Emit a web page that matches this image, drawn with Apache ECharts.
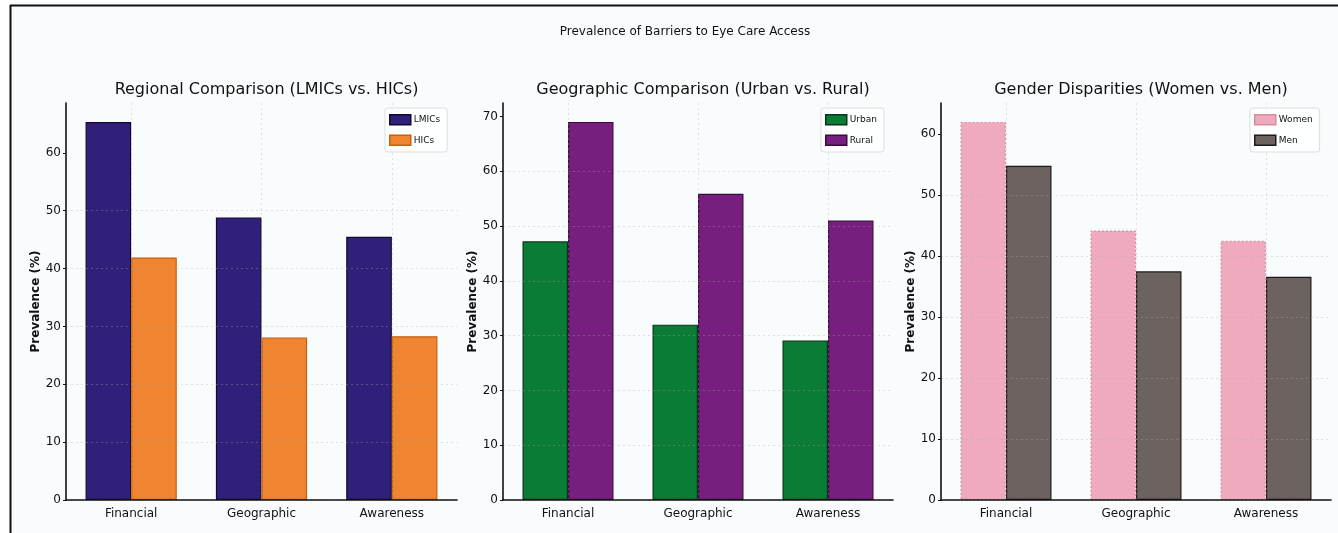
<!DOCTYPE html>
<html>
<head>
<meta charset="utf-8">
<script src="https://cdn.jsdelivr.net/npm/echarts@6/dist/echarts.min.js"></script>
<style>
  html, body { margin: 0; padding: 0; background: #ffffff; }
  #chart { width: 1338px; height: 533px; }
</style>
</head>
<body>
<div id="chart"></div>
<script>
// Barrier categories shared by all three panels
const categories = ['Financial', 'Geographic', 'Awareness'];

// Regional comparison (%)
const lmics = [65.3, 48.8, 45.5];
const hics = [41.9, 28.1, 28.3];

// Urban vs. rural (%)
const urban = [47.2, 32.0, 29.1];
const rural = [69.0, 55.9, 51.0];

// Women vs. men (%)
const women = [62.0, 44.2, 42.5];
const men = [54.8, 37.5, 36.6];

// Y tick labels per panel
const ticksRegional = [0, 10, 20, 30, 40, 50, 60];
const ticksGeographic = [0, 10, 20, 30, 40, 50, 60, 70];
const ticksGender = [0, 10, 20, 30, 40, 50, 60];

// Upper limits of the value axes
const maxRegional = 68.6;
const maxGeographic = 72.45;
const maxGender = 65.1;

const FONT = 'DejaVu Sans';
const chart = echarts.init(document.getElementById('chart'), null, { renderer: 'canvas' });

const grids = [
  { left: 66, top: 103, width: 391, height: 397 },
  { left: 503, top: 103, width: 390, height: 397 },
  { left: 941, top: 103, width: 390, height: 397 }
];

function xAxisFor(i) {
  return {
    type: 'category',
    gridIndex: i,
    data: categories,
    z: 3,
    axisLine: { lineStyle: { color: '#111', width: 1.6 } },
    axisTick: { show: false },
    axisLabel: { color: '#111', fontFamily: FONT, fontSize: 12, margin: 8 },
    splitLine: { show: true, alignWithLabel: true, lineStyle: { color: 'rgba(170,170,170,0.35)', type: [2, 3], width: 1 } }
  };
}

function yAxisFor(i, max, ticks) {
  return {
    type: 'value',
    gridIndex: i,
    min: 0,
    max: max,
    interval: 10,
    z: 3,
    name: 'Prevalence (%)',
    nameLocation: 'middle',
    nameGap: 24,
    nameTextStyle: { color: '#111', fontFamily: FONT, fontSize: 12, fontWeight: 'bold' },
    axisLine: { show: true, lineStyle: { color: '#111', width: 1.6 } },
    axisTick: { show: true, length: 3, inside: false, customValues: ticks, lineStyle: { color: '#111' } },
    axisLabel: { color: '#111', fontFamily: FONT, fontSize: 12, margin: 5, customValues: ticks },
    splitLine: { show: true, showMaxLine: false, lineStyle: { color: 'rgba(170,170,170,0.35)', type: [2, 3], width: 1 } }
  };
}

function bar(name, data, idx, color, border, borderType) {
  return {
    name: name,
    type: 'bar',
    xAxisIndex: idx,
    yAxisIndex: idx,
    data: data,
    barWidth: '35%',
    barGap: '0%',
    itemStyle: { color: color, borderColor: border, borderWidth: 1.2, borderType: borderType || 'solid' },
    emphasis: { disabled: true }
  };
}

function legendFor(names, left) {
  return {
    data: names,
    orient: 'vertical',
    left: left,
    top: 108,
    itemWidth: 21,
    itemHeight: 10,
    itemGap: 9,
    padding: [6, 7, 6, 4],
    backgroundColor: 'rgba(255,255,255,0.8)',
    borderColor: '#dddddd',
    borderWidth: 1,
    borderRadius: 3,
    icon: 'rect',
    itemStyle: { borderWidth: 1.5 },
    textStyle: { color: '#111', fontFamily: FONT, fontSize: 9, padding: [0, 0, 0, -2] }
  };
}

const option = {
  backgroundColor: '#ffffff',
  animation: false,
  graphic: [
    { type: 'rect', z: -10, shape: { x: 10, y: 5, width: 1328, height: 528 }, style: { fill: '#f9fcfd' } },
    { type: 'line', z: 10, shape: { x1: 10, y1: 5.5, x2: 1338, y2: 5.5 }, style: { stroke: '#111', lineWidth: 2 } },
    { type: 'line', z: 10, shape: { x1: 10.5, y1: 5, x2: 10.5, y2: 533 }, style: { stroke: '#111', lineWidth: 2 } }
  ],
  title: [
    { text: 'Prevalence of Barriers to Eye Care Access', left: 680, top: 21, textAlign: 'center',
      textStyle: { fontFamily: FONT, fontSize: 12, fontWeight: 'normal', color: '#111' } },
    { text: 'Regional Comparison (LMICs vs. HICs)', left: 261.5, top: 77, textAlign: 'center',
      textStyle: { fontFamily: FONT, fontSize: 16, fontWeight: 'normal', color: '#111' } },
    { text: 'Geographic Comparison (Urban vs. Rural)', left: 698, top: 77, textAlign: 'center',
      textStyle: { fontFamily: FONT, fontSize: 16, fontWeight: 'normal', color: '#111' } },
    { text: 'Gender Disparities (Women vs. Men)', left: 1136, top: 77, textAlign: 'center',
      textStyle: { fontFamily: FONT, fontSize: 16, fontWeight: 'normal', color: '#111' } }
  ],
  legend: [
    legendFor(['LMICs', 'HICs'], 385),
    legendFor(['Urban', 'Rural'], 821),
    legendFor(['Women', 'Men'], 1250)
  ],
  grid: grids,
  xAxis: [xAxisFor(0), xAxisFor(1), xAxisFor(2)],
  yAxis: [
    yAxisFor(0, maxRegional, ticksRegional),
    yAxisFor(1, maxGeographic, ticksGeographic),
    yAxisFor(2, maxGender, ticksGender)
  ],
  series: [
    bar('LMICs', lmics, 0, '#31207a', '#140b33'),
    bar('HICs', hics, 0, '#ef8530', '#c8600f'),
    bar('Urban', urban, 1, '#0b7c35', '#06361a'),
    bar('Rural', rural, 1, '#771f7e', '#3a0c3d'),
    bar('Women', women, 2, '#efaabd', '#d98ba1', [2, 2]),
    bar('Men', men, 2, '#6c6361', '#1d1a1a')
  ]
};

chart.setOption(option);
</script>
</body>
</html>
